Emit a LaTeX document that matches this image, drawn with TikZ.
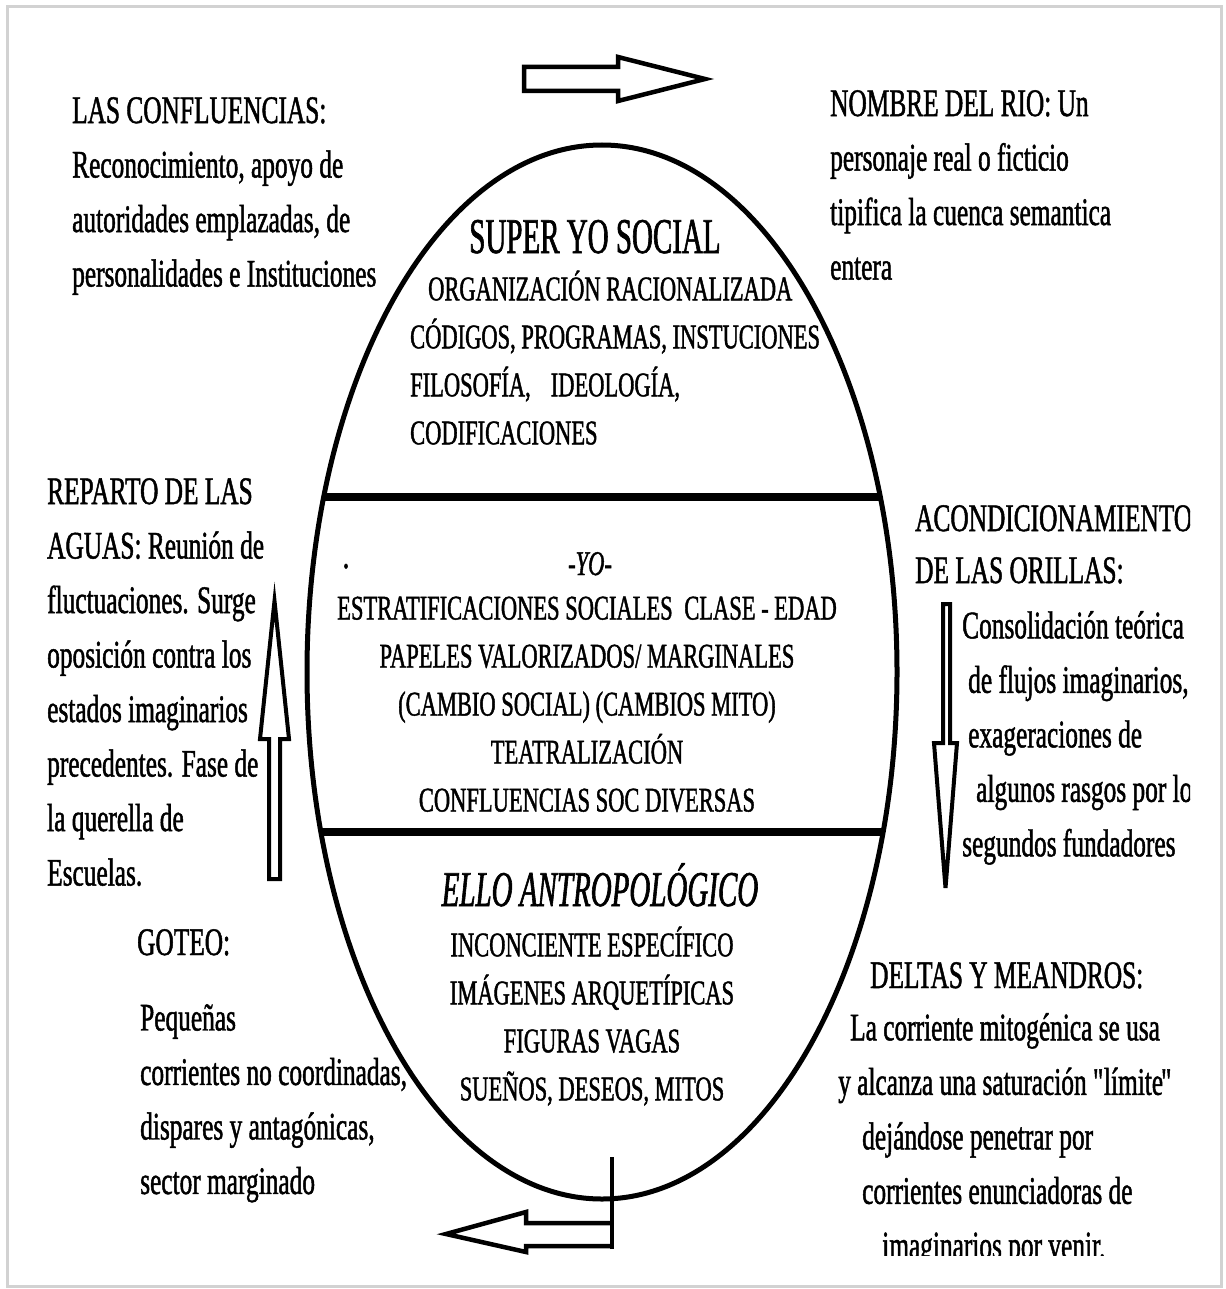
\documentclass[tikz,border=0pt]{standalone}
\usepackage{fontspec}
\setmainfont[FakeStretch=0.65, FakeBold=1.2]{Liberation Serif}
\newfontfamily\tallfont[FakeStretch=0.58, FakeBold=1.2]{Liberation Serif}

\begin{document}
\begin{tikzpicture}[x=1pt,y=-1pt,
	side/.style={anchor=north west, align=left, inner sep=0pt, font=\fontsize{39}{54.5}\selectfont},
	sidehead/.style={anchor=base west, inner sep=0pt, font=\fontsize{39}{54.5}\selectfont},
	inner/.style={anchor=north, align=center, inner sep=0pt, font=\fontsize{34.6}{48}\selectfont},
	heading/.style={anchor=base, inner sep=0pt, font=\tallfont\fontsize{50}{52}\selectfont},
	bigarrow/.style={draw, line width=4.5pt, fill=white, line join=miter}]
	\useasboundingbox (0,0) rectangle (1225,1289);
	\draw[gray!35, line width=3pt] (7,7) rectangle (1221,1286);
	
	% the egg
	\draw[line width=5pt] (602,672) ellipse [x radius=295, y radius=527];
	\begin{scope}
		\clip (602,672) ellipse [x radius=295, y radius=527];
		\draw[line width=8pt] (290,497) -- (910,497);
		\draw[line width=8pt] (290,832) -- (910,832);
	\end{scope}
	
	\node[heading] (superyo) at (595,253) {SUPER YO SOCIAL};
	\node[inner, anchor=north west, align=left] (superyo-txt) at (410,270.4) {\hspace*{18pt}ORGANIZACIÓN RACIONALIZADA\\CÓDIGOS, PROGRAMAS, INSTUCIONES\\FILOSOFÍA,\hspace{20pt}IDEOLOGÍA,\\CODIFICACIONES};
	
	\node[heading, font=\fontsize{34.6}{48}\selectfont\itshape] (yo) at (590,575) {-YO-};
	\node[heading, font=\fontsize{40}{48}\selectfont] (dot) at (346,568) {.};
	\node[inner] (yo-txt) at (587,596.4) {ESTRATIFICACIONES SOCIALES\hspace{6pt} CLASE - EDAD\\PAPELES VALORIZADOS/ MARGINALES\\(CAMBIO SOCIAL) (CAMBIOS MITO)\\TEATRALIZACIÓN\\CONFLUENCIAS SOC DIVERSAS};
	
	\node[heading, font=\tallfont\fontsize{50}{52}\selectfont\itshape] (ello) at (600,906) {ELLO ANTROPOLÓGICO};
	\node[inner] (ello-txt) at (592,926.4) {INCONCIENTE ESPECÍFICO\\IMÁGENES ARQUETÍPICAS\\FIGURAS VAGAS\\SUEÑOS, DESEOS, MITOS};
	
	% text round the egg
	\node[side] (conf) at (72,97) {LAS CONFLUENCIAS:\\Reconocimiento, apoyo de\\autoridades emplazadas, de\\personalidades e Instituciones};
	\node[side] (rio) at (830,90) {NOMBRE DEL RIO: Un\\personaje real o ficticio\\tipifica la cuenca semantica\\entera};
	\node[side] (reparto) at (47,478) {REPARTO DE LAS\\AGUAS: Reunión de\\fluctuaciones. Surge\\oposición contra los\\estados imaginarios\\precedentes. Fase de\\la querella de\\Escuelas.};
	\begin{scope}
		\clip (900,470) rectangle (1190,900);
		\node[side, font=\fontsize{39}{52}\selectfont] (orillas) at (915,505) {ACONDICIONAMIENTO\\DE LAS ORILLAS:};
		\node[side] (orillas-txt) at (962,611) {Consolidación teórica\\\hspace*{6pt}de flujos imaginarios,\\\hspace*{6pt}exageraciones de\\\hspace*{14pt}algunos rasgos por los\\segundos fundadores};
	\end{scope}
	\node[sidehead] (goteo) at (137,955) {GOTEO:};
	\node[side] (goteo-txt) at (140,1004) {Pequeñas\\corrientes no coordinadas,\\dispares y antagónicas,\\sector marginado};
	\node[sidehead] (deltas) at (870,988) {DELTAS Y MEANDROS:};
	\begin{scope}
		\clip (820,1000) rectangle (1221,1255);
		\node[side] (deltas-txt) at (838,1013) {\hspace*{12pt}La corriente mitogénica se usa\\y alcanza una saturación \textquotedbl\kern-5pt límite\kern-2pt\textquotedbl\\\hspace*{24pt}dejándose penetrar por\\\hspace*{24pt}corrientes enunciadoras de\\\hspace*{44pt}imaginarios por venir.};
	\end{scope}
	
	% flow arrows
	\draw[bigarrow] (524,67) -- (618,67) -- (618,57) -- (705,79) -- (618,101) -- (618,91) -- (524,91) -- cycle;
	\draw[bigarrow] (612,1223) -- (526,1223) -- (526,1212) -- (446,1234) -- (526,1252) -- (526,1246) -- (612,1246);
	\draw[line width=3.5pt] (612,1157) -- (612,1249);
	\draw[bigarrow, line width=4pt] (269,879) -- (269,739) -- (260,739) -- (274.5,601) -- (289,739) -- (280,739) -- (280,879) -- cycle;
	\draw[bigarrow, line width=4pt] (943,604) -- (943,743) -- (934,743) -- (945.5,888) -- (957,743) -- (950,743) -- (950,604) -- cycle;
	
\end{tikzpicture}
\end{document}
